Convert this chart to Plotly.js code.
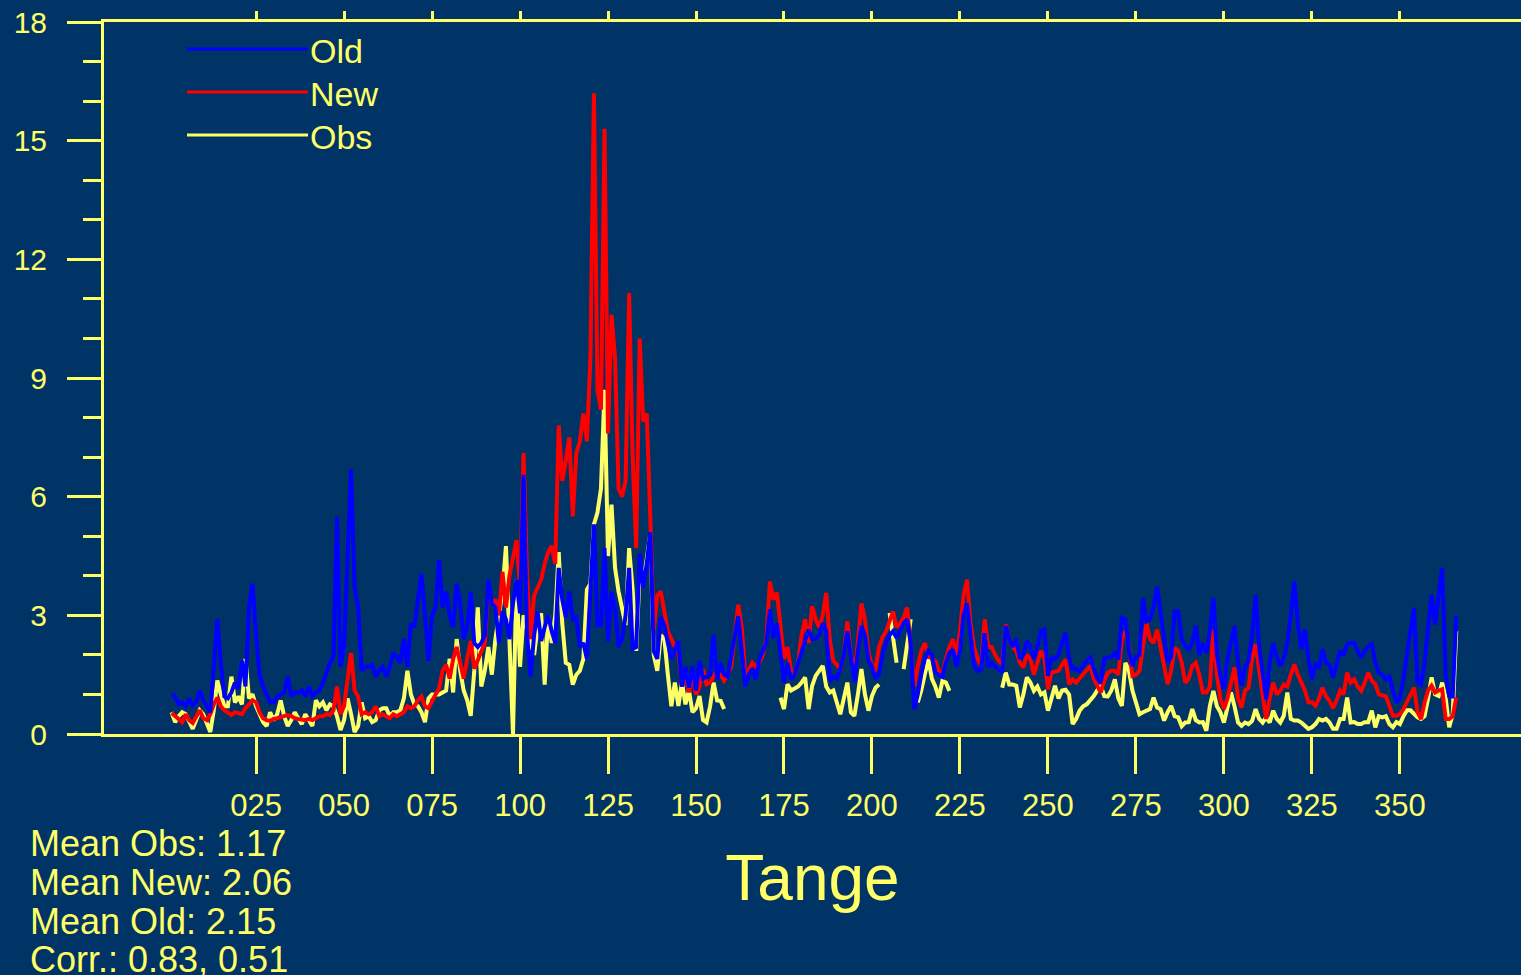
<!DOCTYPE html>
<html>
<head>
<meta charset="utf-8">
<script src="https://cdn.plot.ly/plotly-3.0.1.min.js"></script>
<style>
html,body{margin:0;padding:0;background:#003366;overflow:hidden;}
#chart{width:1521px;height:975px;}
</style>
</head>
<body>
<div id="chart"></div>
<script>
// ---------------- data (daily values, day 1..366) ----------------
const seriesNames = ["Old", "New", "Obs"];

const oldVals = [
1.0,0.95,0.75,0.8,0.7,0.9,0.72,0.8,1.1,0.85,0.7,0.55,1.7,2.9,1.8,0.95,0.9,1.05,1.3,1.15,1.85,1.2,3.2,3.8,2.5,1.5,1.2,1.0,0.8,0.8,0.95,1.0,1.05,1.45,0.95,1.05,1.05,1.1,0.95,1.2,0.95,1.05,1.1,1.3,1.55,1.8,1.95,
5.5,1.7,2.2,4.5,6.7,3.7,3.2,1.6,1.7,1.7,1.75,1.45,1.6,1.7,1.45,1.7,2.05,1.95,1.8,2.4,1.7,2.8,2.7,3.4,4.05,3.0,1.85,3.0,3.2,4.4,3.2,3.6,3.0,2.7,3.8,3.3,2.4,2.7,3.6,2.3,2.2,2.3,2.5,3.9,3.3,3.2,2.3,3.1,
2.9,2.4,3.3,3.9,3.05,6.55,2.5,1.45,2.5,3.1,2.35,2.7,3.0,2.6,2.3,4.2,3.4,2.95,3.6,2.9,2.95,2.2,2.3,1.9,3.5,5.3,2.75,2.75,4.7,2.35,3.6,3.2,2.2,2.4,3.0,4.2,2.15,2.2,4.55,3.7,4.3,5.1,2.1,1.9,2.95,2.75,2.3,1.9,2.14,
2.35,1.2,1.7,1.17,1.72,1.1,1.85,1.4,1.45,1.5,2.5,1.38,1.8,1.5,1.45,2.0,2.5,2.98,2.1,1.2,1.5,1.65,1.38,1.9,2.1,2.3,3.15,2.43,2.8,2.0,1.3,1.8,1.38,1.5,1.8,2.1,2.4,2.64,2.4,2.4,2.5,2.8,2.6,1.34,1.45,1.4,1.65,2.0,
2.6,1.9,1.3,2.1,2.73,2.5,1.85,1.7,1.4,1.5,2.0,2.3,2.5,2.6,2.43,2.6,2.8,2.9,2.3,0.63,1.0,1.5,1.9,2.1,2.0,1.55,1.5,1.45,1.8,2.05,2.14,1.7,2.1,3.0,3.3,2.4,1.72,1.6,1.64,2.55,1.7,1.8,1.7,1.65,1.55,2.73,2.4,2.2,
2.4,1.9,2.0,2.35,2.2,1.9,2.2,2.6,2.64,1.47,1.93,1.9,2.0,2.3,2.56,1.9,1.64,1.65,1.6,1.75,1.85,1.93,1.65,1.4,1.3,1.9,1.93,1.95,2.05,1.89,2.94,2.9,2.1,1.72,1.95,2.0,3.44,2.85,2.9,3.2,3.73,3.1,2.3,1.8,1.95,3.1,3.1,2.4,
2.22,2.14,2.3,2.73,2.0,2.3,2.05,2.6,3.44,2.0,1.47,1.13,1.9,2.3,2.73,1.8,1.22,1.7,1.85,2.5,3.52,2.2,1.6,0.88,1.8,2.3,1.95,1.72,1.9,2.3,3.0,3.86,2.8,2.14,2.64,1.9,1.38,1.76,1.7,2.14,1.8,1.75,1.43,1.8,2.1,2.0,2.27,2.3,
2.3,2.1,1.93,2.1,2.22,2.27,1.8,1.55,1.5,1.38,1.45,1.1,0.8,0.9,1.38,2.0,2.6,3.19,1.3,1.25,1.8,2.8,3.52,2.77,3.4,4.2,1.5,0.96,0.95,2.98
];

const newVals = [
0.53,0.45,0.4,0.3,0.5,0.35,0.28,0.45,0.6,0.4,0.35,0.5,0.75,0.92,0.7,0.6,0.55,0.48,0.55,0.52,0.5,0.65,0.75,0.85,0.8,0.55,0.4,0.35,0.33,0.38,0.4,0.42,0.45,0.48,0.45,0.4,0.38,0.36,0.35,0.38,0.35,0.4,0.45,0.45,0.5,0.48,0.6,
1.2,0.5,0.7,1.3,2.05,1.1,0.95,0.5,0.55,0.5,0.55,0.7,0.45,0.5,0.45,0.4,0.5,0.45,0.5,0.55,0.7,0.65,0.7,0.85,0.95,0.7,0.65,0.85,1.0,1.15,1.6,1.75,1.4,1.9,2.2,1.8,1.4,1.9,2.35,1.65,1.85,2.1,2.3,3.8,3.3,3.4,3.0,4.1,
3.2,4.0,4.5,4.9,3.7,7.1,4.0,2.4,3.5,3.7,3.9,4.3,4.6,4.75,4.3,7.8,6.4,6.9,7.5,5.5,7.1,7.4,8.1,7.4,9.5,16.2,8.7,8.2,15.3,7.6,10.6,9.5,6.2,6.0,6.4,11.15,7.0,4.7,10.0,7.9,8.1,5.5,2.6,3.5,3.6,3.1,2.6,2.4,2.2,
2.1,1.2,1.5,1.05,1.55,1.0,1.2,1.64,1.26,1.3,1.45,1.6,1.5,1.35,1.5,1.7,2.5,3.27,2.7,1.5,1.6,1.8,1.7,1.8,2.0,2.4,3.85,3.4,3.57,2.6,1.9,2.2,1.6,1.5,1.8,2.5,2.9,2.3,3.23,2.9,2.7,3.0,3.57,2.4,1.85,1.75,1.64,2.0,
2.85,2.0,1.55,2.3,3.3,2.9,2.05,1.72,1.65,2.2,2.45,2.6,2.85,3.1,2.7,2.8,2.95,3.2,2.2,1.2,1.7,2.1,2.3,2.0,1.9,1.85,1.6,1.5,1.9,2.2,2.4,2.0,2.6,3.5,3.9,2.8,2.2,1.9,1.72,2.9,2.2,2.2,2.0,1.85,1.75,2.77,2.4,2.2,
2.1,1.8,1.68,2.0,1.9,1.5,1.8,2.1,1.9,1.13,1.55,1.58,1.6,1.75,1.89,1.26,1.38,1.3,1.4,1.5,1.6,1.72,1.4,1.2,1.05,1.35,1.55,1.6,1.6,1.5,2.4,2.6,2.2,1.47,1.5,1.6,2.2,2.8,2.4,2.3,2.64,2.2,1.8,1.26,1.6,2.18,2.1,1.8,
1.3,1.4,1.72,1.8,1.5,1.05,1.05,1.2,2.64,1.5,0.88,0.63,0.9,1.3,1.68,0.9,0.67,1.1,1.17,1.9,2.27,1.6,1.0,0.38,0.9,1.3,1.0,1.1,1.25,1.2,1.5,1.76,1.5,1.3,1.1,0.8,0.8,0.71,0.9,1.17,0.95,0.84,0.65,0.85,1.1,1.0,1.55,1.3,
1.38,1.2,1.09,1.3,1.55,1.35,1.26,1.0,0.98,0.95,0.71,0.46,0.46,0.5,0.63,0.8,1.0,1.17,0.55,0.38,0.8,1.1,1.22,1.05,1.1,1.13,0.38,0.38,0.45,0.92
];

const obsVals = [
0.55,0.3,0.45,0.55,0.5,0.3,0.13,0.35,0.6,0.5,0.3,0.05,0.6,1.35,1.0,0.7,0.7,1.45,0.8,0.95,0.75,1.9,0.9,1.0,0.7,0.5,0.3,0.2,0.55,0.35,0.5,0.85,0.45,0.2,0.35,0.55,0.4,0.25,0.5,0.35,0.2,0.85,0.7,0.8,0.6,
0.75,0.7,0.45,0.1,0.35,0.9,0.5,0.05,0.2,0.8,0.4,0.45,0.3,0.35,0.6,0.65,0.65,0.45,0.55,0.55,0.6,0.9,1.6,1.0,0.75,0.7,0.55,0.3,0.9,1.0,1.0,1.0,1.05,1.1,1.9,1.05,2.4,1.6,1.1,0.85,0.46,1.6,3.2,1.2,1.6,2.2,1.5,2.4,3.0,3.6,
4.75,2.4,0.0,3.9,1.7,3.0,2.6,2.3,2.0,2.7,3.05,1.25,3.0,2.3,3.0,4.6,2.8,1.8,1.75,1.25,1.5,1.6,1.9,3.65,3.8,5.3,5.6,6.2,8.7,4.5,5.8,4.2,3.6,3.2,2.75,4.7,3.65,2.1,4.1,3.8,4.4,5.05,2.0,1.6,2.5,2.4,1.5,0.7,1.3,
0.71,1.3,0.75,1.1,0.55,0.65,0.96,0.35,0.29,0.7,1.3,0.85,0.84,0.63,
null,null,null,null,null,null,null,null,null,null,null,null,null,null,null,
0.92,0.63,1.26,1.1,1.15,1.2,1.3,1.43,0.63,1.22,1.47,1.6,1.72,1.2,1.05,1.1,0.8,0.5,0.9,
1.3,0.55,0.46,1.0,1.64,1.0,0.59,0.96,1.17,1.25,null,null,3.06,2.4,1.8,null,1.64,2.2,2.9,null,0.8,1.1,1.5,1.89,1.4,1.2,0.92,1.34,1.3,1.09,
null,null,null,null,null,null,null,null,null,null,null,null,null,null,
1.17,1.55,1.25,1.25,
1.22,0.67,1.0,1.43,1.3,1.09,1.2,1.0,1.05,0.59,0.9,1.22,0.9,1.1,1.12,1.0,0.25,0.38,0.59,0.7,0.75,0.85,0.96,1.1,1.22,0.96,0.95,1.1,1.38,0.9,0.71,1.8,1.6,1.1,0.8,0.5,0.55,0.6,0.63,0.92,0.67,0.63,0.34,0.55,0.71,0.45,0.42,0.2,
0.29,0.3,0.63,0.35,0.29,0.3,0.08,0.71,1.09,0.7,0.55,0.29,0.7,1.05,0.7,0.29,0.21,0.29,0.25,0.33,0.63,0.38,0.29,0.42,0.29,0.59,0.38,0.29,0.46,1.05,0.38,0.34,0.34,0.29,0.21,0.13,0.17,0.25,0.38,0.34,0.38,0.29,0.13,0.13,0.38,0.38,0.92,0.29,
0.3,0.25,0.25,0.3,0.3,0.59,0.17,0.45,0.42,0.45,0.25,0.17,0.3,0.25,0.45,0.6,0.6,0.5,0.42,0.38,0.45,0.9,1.43,1.0,0.96,1.3,0.9,0.17,0.5,2.6
];

const xTickVals = [25,50,75,100,125,150,175,200,225,250,275,300,325,350];
const xTickText = ["025","050","075","100","125","150","175","200","225","250","275","300","325","350"];
const yTickVals = [0,3,6,9,12,15,18];
const yTickText = ["0","3","6","9","12","15","18"];
const statLines = ["Mean Obs: 1.17","Mean New: 2.06","Mean Old: 2.15","Corr.: 0.83, 0.51"];
const xTitle = "Tange";

// ---------------- styling ----------------
const BG = "#003366";
const YEL = "#ffff66";
const COLORS = {Old: "#0000ff", New: "#ff0000", Obs: "#ffff66"};
const FONT = "Liberation Sans, Arial, Helvetica, sans-serif";
const W = 1521, H = 975;
const M = {l: 104, r: 0, t: 22, b: 241};
const plotW = W - M.l - M.r, plotH = H - M.t - M.b;
const pxX = px => (px - M.l) / plotW;
const pxY = py => 1 - (py - M.t) / plotH;

const days = oldVals.map((_, i) => i + 1);
const valsByName = {Old: oldVals, New: newVals, Obs: obsVals};

// draw order: Obs bottom, New, Old on top
const drawOrder = ["Obs", "New", "Old"];
const traces = drawOrder.map(n => ({
  type: "scatter", mode: "lines", name: n,
  x: days.slice(0, valsByName[n].length), y: valsByName[n],
  line: {color: COLORS[n], width: 4},
  connectgaps: false, showlegend: false, hoverinfo: "x+y+name"
}));
// carrier trace for the top (mirror) axis
traces.push({type: "scatter", mode: "lines", x: [], y: [], xaxis: "x2", yaxis: "y", showlegend: false, hoverinfo: "skip"});

// x range chosen so day 0 sits at ~168 px and 25 days span ~88 px
const xRange = [-18.2, 384.4];

// legend (drawn manually: long sample lines + labels)
const legendY = [49, 92, 135];
const shapes = [];
const annotations = [];
seriesNames.forEach((n, i) => {
  shapes.push({type: "line", xref: "paper", yref: "paper",
    x0: pxX(187), x1: pxX(308), y0: pxY(legendY[i]), y1: pxY(legendY[i]),
    line: {color: COLORS[n], width: 3}});
  annotations.push({xref: "paper", yref: "paper", x: pxX(308), y: pxY(legendY[i] + 2),
    xanchor: "left", yanchor: "middle", text: n, showarrow: false,
    font: {family: FONT, size: 34, color: YEL}});
});
const statY = [843, 882, 921, 959];
statLines.forEach((t, i) => {
  annotations.push({xref: "paper", yref: "paper", x: pxX(28), y: pxY(statY[i]),
    xanchor: "left", yanchor: "middle", text: t, showarrow: false,
    font: {family: FONT, size: 36, color: YEL}});
});

const layout = {
  width: W, height: H,
  margin: M,
  paper_bgcolor: BG, plot_bgcolor: BG,
  font: {family: FONT, color: YEL},
  showlegend: false,
  xaxis: {
    range: xRange, showgrid: false, zeroline: false,
    showline: true, linecolor: YEL, linewidth: 3,
    tickmode: "array", tickvals: xTickVals, ticktext: xTickText,
    ticks: "outside", ticklen: 37, tickwidth: 3, tickcolor: YEL,
    tickfont: {family: FONT, size: 31, color: YEL},
    ticklabelstandoff: 5,
    title: {text: xTitle, font: {family: FONT, size: 64, color: YEL}, standoff: 33},
    automargin: false
  },
  xaxis2: {
    overlaying: "x", side: "top", anchor: "y", range: xRange,
    showgrid: false, zeroline: false,
    showline: true, linecolor: YEL, linewidth: 3,
    tickmode: "array", tickvals: xTickVals, showticklabels: false,
    ticks: "outside", ticklen: 8, tickwidth: 3, tickcolor: YEL
  },
  yaxis: {
    range: [0, 18], showgrid: false, zeroline: false,
    showline: true, linecolor: YEL, linewidth: 3,
    tickmode: "array", tickvals: yTickVals, ticktext: yTickText,
    ticks: "outside", ticklen: 34, tickwidth: 3, tickcolor: YEL,
    tickfont: {family: FONT, size: 30, color: YEL},
    ticklabelstandoff: 14,
    minor: {tickmode: "linear", tick0: 0, dtick: 1, ticks: "outside", ticklen: 18, tickwidth: 3, tickcolor: YEL, showgrid: false},
    automargin: false
  },
  shapes: shapes,
  annotations: annotations
};

Plotly.newPlot("chart", traces, layout, {displayModeBar: false, staticPlot: true});
</script>
</body>
</html>
